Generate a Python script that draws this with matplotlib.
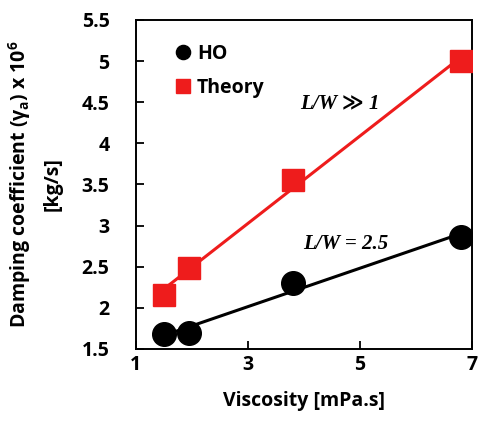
import numpy as np
import matplotlib
matplotlib.use("Agg")
import matplotlib.pyplot as plt
from matplotlib.ticker import FormatStrFormatter

plt.rcParams['font.family'] = ['Open Sans', 'DejaVu Sans']
plt.rcParams['font.weight'] = 'bold'

# data
viscosity = [1.5, 1.95, 3.8, 6.8]
ho_damping = [1.68, 1.69, 2.30, 2.865]
theory_damping = [2.16, 2.48, 3.55, 5.0]

x_ticks = [1, 3, 5, 7]
y_ticks = [1.5, 2, 2.5, 3, 3.5, 4, 4.5, 5, 5.5]

fig = plt.figure(figsize=(4.8, 4.24), dpi=100)
ax = fig.add_axes([0.283, 0.177, 0.700, 0.776])

# linear fits through each series
xs = np.array([min(viscosity), max(viscosity)])
p_ho = np.polyfit(viscosity, ho_damping, 1)
p_th = np.polyfit(viscosity, theory_damping, 1)
ax.plot(xs, np.polyval(p_ho, xs), color="black", lw=2.2, zorder=2)
ax.plot(xs, np.polyval(p_th, xs), color="#ee1c1c", lw=2.2, zorder=2)

ax.plot(viscosity, ho_damping, "o", color="black", ms=17, ls="none",
        label="HO", zorder=3)
ax.plot(viscosity, theory_damping, "s", color="#ee1c1c", ms=16.5, ls="none",
        label="Theory", zorder=3)

ax.set_xlim(1, 7)
ax.set_ylim(1.5, 5.5)
ax.set_xticks(x_ticks)
ax.set_yticks(y_ticks)
ax.yaxis.set_major_formatter(FormatStrFormatter('%g'))
ax.tick_params(direction="in", length=6, width=1.3, labelsize=14)
ax.tick_params(axis="y", pad=19)
ax.tick_params(axis="x", pad=4)
for lab in ax.get_xticklabels() + ax.get_yticklabels():
    lab.set_fontweight("bold")
for s in ax.spines.values():
    s.set_linewidth(1.4)

ax.set_xlabel("Viscosity [mPa.s]", fontsize=14, fontweight="bold", labelpad=12)
ax.set_ylabel("Damping coefficient (γ$_{\\mathregular{a}}$) x 10$^{\\mathregular{6}}$\n[kg/s]",
              fontsize=14, fontweight="bold", linespacing=1.6, labelpad=14)

serif = ['Liberation Serif', 'DejaVu Serif', 'DejaVu Sans']
ax.text(3.93, 4.49, "L/W ≫ 1", family=serif, style="italic", weight="bold",
        fontsize=15, va="center")
ax.text(3.98, 2.78, "L/W = 2.5", family=serif, style="italic", weight="bold",
        fontsize=15, va="center")

ax.legend(loc="upper left", bbox_to_anchor=(0.06, 0.98), frameon=False,
          markerscale=0.6, handletextpad=0.2, handlelength=1.0,
          labelspacing=0.7, prop={'weight': 'bold', 'size': 14})

fig.savefig("out.png", dpi=100)
